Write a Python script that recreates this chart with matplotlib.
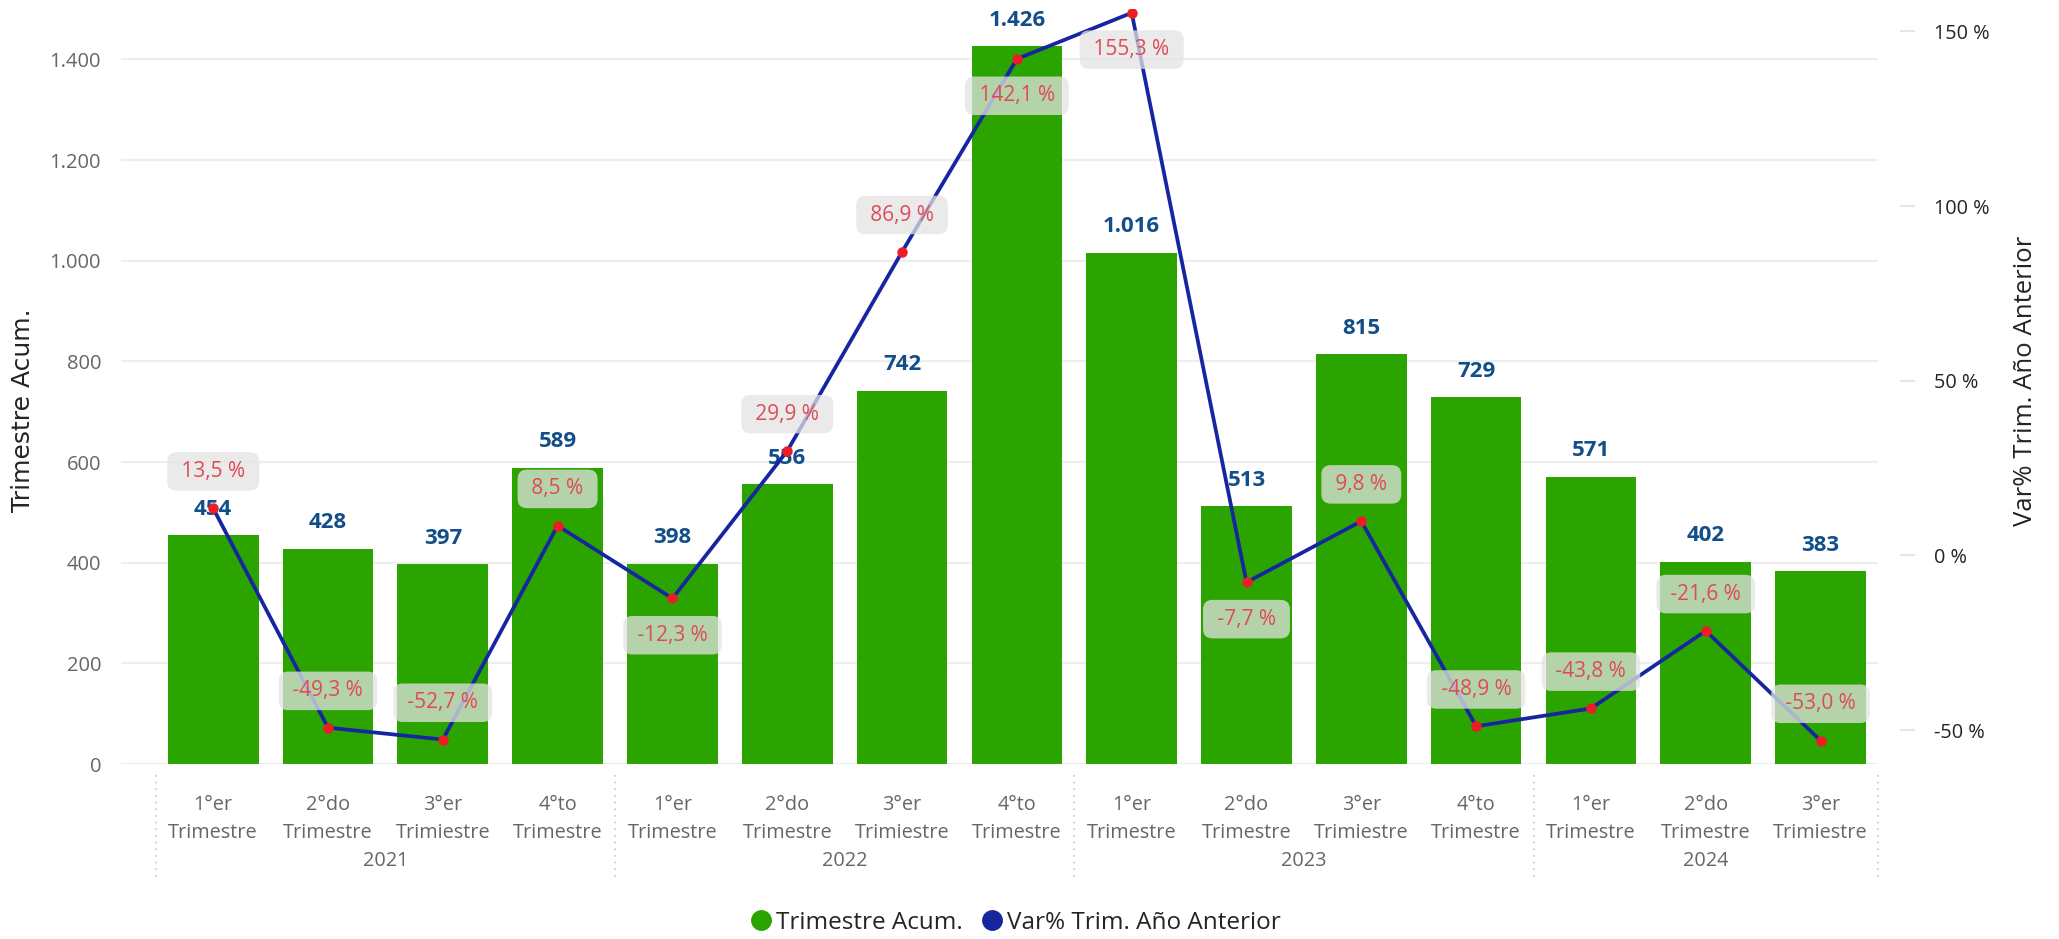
import matplotlib
matplotlib.use('Agg')
import matplotlib.pyplot as plt
from matplotlib.ticker import FuncFormatter, FixedLocator
from matplotlib.lines import Line2D
import matplotlib.transforms as mtransforms

plt.rcParams['font.family'] = ['Open Sans', 'DejaVu Sans']

# ---------------- data ----------------
quarter_labels = ['1°er\nTrimestre', '2°do\nTrimestre', '3°er\nTrimiestre', '4°to\nTrimestre',
                  '1°er\nTrimestre', '2°do\nTrimestre', '3°er\nTrimiestre', '4°to\nTrimestre',
                  '1°er\nTrimestre', '2°do\nTrimestre', '3°er\nTrimiestre', '4°to\nTrimestre',
                  '1°er\nTrimestre', '2°do\nTrimestre', '3°er\nTrimiestre']
quarter_year = ['2021'] * 4 + ['2022'] * 4 + ['2023'] * 4 + ['2024'] * 3
years = ['2021', '2022', '2023', '2024']
trimestre_acum = [454, 428, 397, 589, 398, 556, 742, 1426, 1016, 513, 815, 729, 571, 402, 383]
var_pct = [13.5, -49.3, -52.7, 8.5, -12.3, 29.9, 86.9, 142.1, 155.3, -7.7, 9.8, -48.9, -43.8, -21.6, -53.0]
left_ticks = [0, 200, 400, 600, 800, 1000, 1200, 1400]
right_ticks = [-50, 0, 50, 100, 150]
# label placement (style): True -> percent label drawn below the point
pct_label_below = [False, False, False, False, True, False, False, True, True, True,
                   False, False, False, False, False]

# ---------------- style ----------------
BAR_C = '#2CA400'
LINE_C = '#1626A0'
DOT_C = '#EE1C25'
BARLBL_C = '#124E89'
PCT_C = '#E04A55'
TICK_C = '#666666'
DARK = '#252423'
GRID_C = '#EEEEEE'

W, H = 2059, 939
fig = plt.figure(figsize=(W / 100, H / 100), dpi=100)
ax_l, ax_r, ax_b, ax_t = 120.5, 1878, 764, 9
ax = fig.add_axes([ax_l / W, 1 - ax_b / H, (ax_r - ax_l) / W, (ax_b - ax_t) / H])

n = len(trimestre_acum)
x = list(range(n))
ax.bar(x, trimestre_acum, width=0.79, color=BAR_C, zorder=2)
ax.set_xlim(-0.807, n - 0.5)
ax.set_ylim(0, 1500)
ax.yaxis.set_major_locator(FixedLocator(left_ticks))
ax.yaxis.set_major_formatter(FuncFormatter(lambda v, p: f'{int(v):,}'.replace(',', '.')))
ax.grid(axis='y', color=GRID_C, linewidth=1.6, zorder=0)
ax.set_axisbelow(True)
for s in ax.spines.values():
    s.set_visible(False)
ax.tick_params(axis='y', length=0, pad=14, labelsize=14.5, labelcolor=TICK_C)
ax.set_xticks(x)
ax.set_xticklabels(quarter_labels, linespacing=1.55)
ax.tick_params(axis='x', length=0, pad=22, labelsize=14.3, labelcolor=TICK_C)

# bar value labels
for xi, v in zip(x, trimestre_acum):
    ax.annotate(f'{v:,}'.replace(',', '.'), (xi, v), xytext=(0, 18.5), textcoords='offset points',
                ha='center', va='center', fontsize=16, fontweight='bold', color=BARLBL_C, zorder=3)

# year labels and separators
trans = mtransforms.blended_transform_factory(ax.transData, ax.transAxes)
ax_h = ax_b - ax_t
for yr in years:
    idx = [i for i, q in enumerate(quarter_year) if q == yr]
    c = (idx[0] + idx[-1]) / 2
    ax.text(c, (ax_b - 861) / ax_h, yr, transform=trans, ha='center', va='center',
            fontsize=14.3, color=TICK_C)
bounds = [i - 0.5 for i in range(n) if i == 0 or quarter_year[i] != quarter_year[i - 1]] + [n - 0.5]
for b in bounds:
    ax.plot([b, b], [(ax_b - 775) / ax_h, (ax_b - 877) / ax_h], transform=trans, clip_on=False,
            color='#C8C8C8', linestyle=(0, (1, 3)), linewidth=1.2)

# secondary axis
ax2 = ax.twinx()
ax2.set_ylim(-59.7, 156.4)
ax2.plot(x, var_pct, color=LINE_C, linewidth=2.7, zorder=4)
ax2.plot(x, var_pct, linestyle='none', marker='o', markersize=6.5, color=DOT_C, zorder=5)
ax2.yaxis.set_major_locator(FixedLocator(right_ticks))
ax2.yaxis.set_major_formatter(FuncFormatter(lambda v, p: f'{int(v)} %'))
for s in ax2.spines.values():
    s.set_visible(False)
ax2.spines['right'].set_position(('outward', 15.8))
ax2.tick_params(axis='y', length=10.8, width=1.5, color='#E6E6E6', pad=14,
                labelsize=14.3, labelcolor=DARK)

for xi, v, below in zip(x, var_pct, pct_label_below):
    txt = ' ' + f'{v:.1f} %'.replace('.', ',') + ' '
    ax2.annotate(txt, (xi, v), xytext=(0, -26.5 if below else 26.5), textcoords='offset points',
                 ha='center', va='center', fontsize=15, color=PCT_C, zorder=6,
                 bbox=dict(boxstyle='round,pad=0.42,rounding_size=0.45', facecolor='#E4E4E4',
                           edgecolor='none', alpha=0.75))

# axis titles
fig.text(23 / W, 1 - 410 / H, 'Trimestre Acum.', rotation=90, ha='center', va='center',
         fontsize=18, color=DARK, family='DejaVu Sans')
fig.text(2025 / W, 1 - 381 / H, 'Var% Trim. Año Anterior', rotation=90, ha='center', va='center',
         fontsize=18.5, color=DARK)

# legend
handles = [Line2D([], [], linestyle='none', marker='o', markersize=14, color=BAR_C),
           Line2D([], [], linestyle='none', marker='o', markersize=14, color=LINE_C)]
fig.legend(handles, ['Trimestre Acum.', 'Var% Trim. Año Anterior'], loc='center',
           bbox_to_anchor=(1016 / W, 1 - 923 / H), ncol=2, frameon=False, fontsize=17.5,
           handlelength=0.8, handletextpad=0.2, columnspacing=0.8, labelcolor=DARK)

fig.savefig('out.png', dpi=100)
